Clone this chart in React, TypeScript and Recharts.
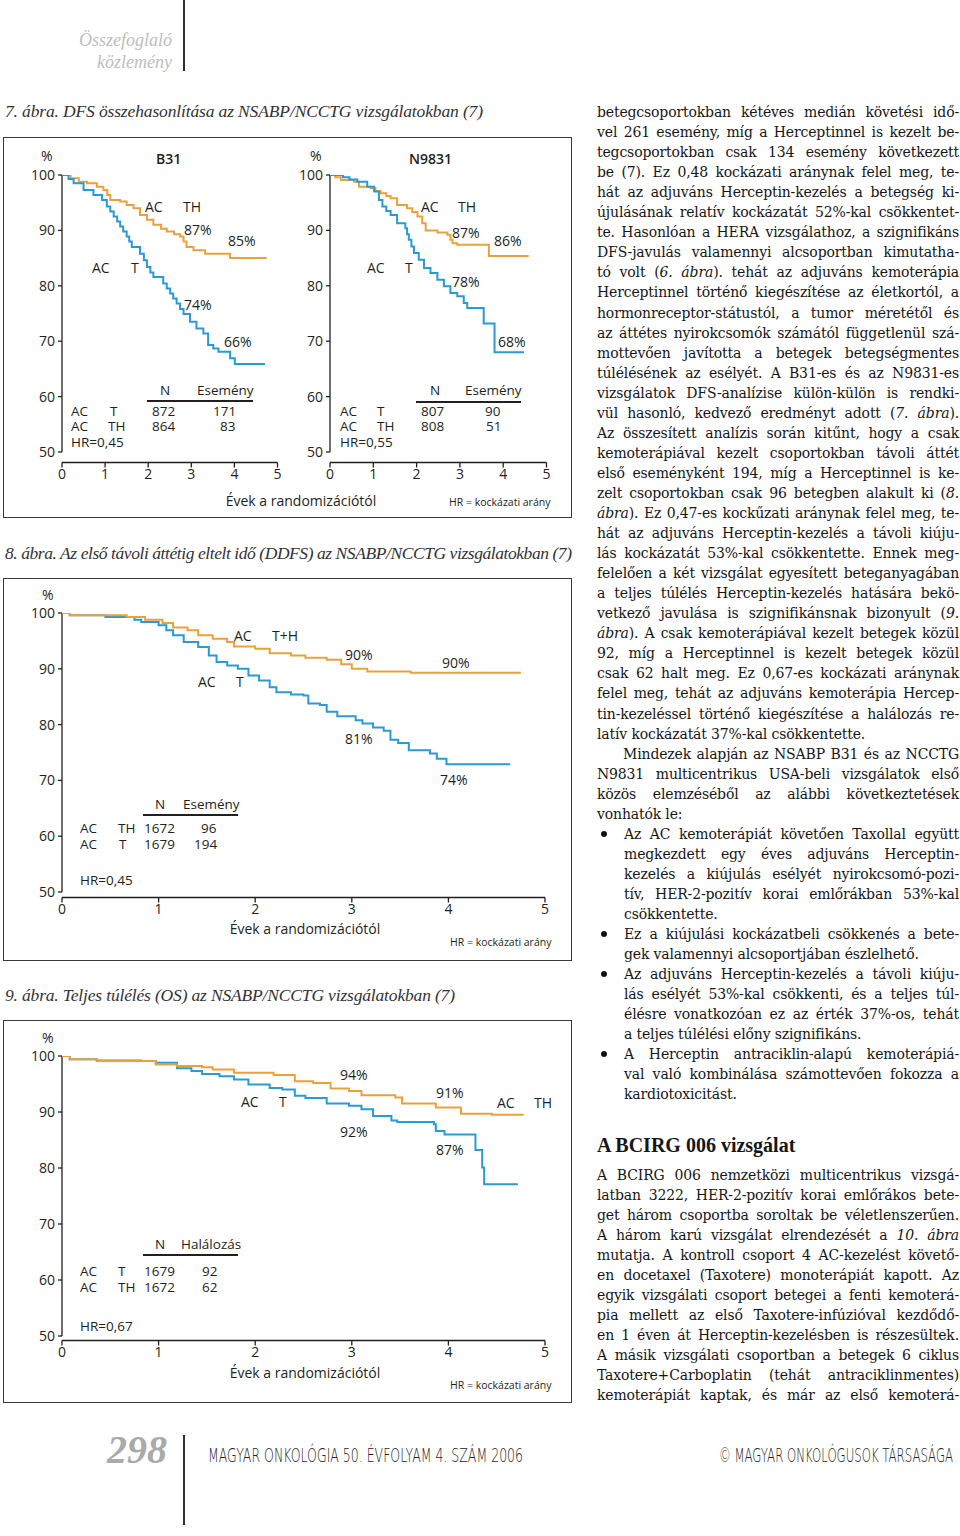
import React from "react";
import { LineChart, Line, XAxis, YAxis, ReferenceLine } from "recharts";

// --- chart values (years since randomisation, % event free) ---
const yearTicks = [0, 1, 2, 3, 4, 5];
const pctTicks = [50, 60, 70, 80, 90, 100];

// 7. ábra, B31
const b31TH = [
  [0, 100], [0.2, 99.4], [0.39, 98.8], [0.58, 98.5], [0.81, 97.9], [0.96, 97.3], [1.05, 96.4],
  [1.12, 95.5], [1.35, 95.2], [1.5, 94.6], [1.66, 94.0], [1.81, 92.8], [1.97, 91.9], [2.12, 91.0],
  [2.3, 90.3], [2.43, 89.8], [2.6, 89.3], [2.74, 88.9], [2.82, 88.0], [2.89, 87.0], [3.05, 86.4],
  [3.32, 85.8], [3.9, 85.0], [4.75, 85.0],
];
const b31T = [
  [0, 100], [0.15, 99.3], [0.27, 98.5], [0.5, 97.3], [0.73, 96.4], [0.93, 95.5], [1.04, 94.3],
  [1.12, 93.4], [1.2, 92.5], [1.28, 91.6], [1.35, 90.7], [1.42, 89.8], [1.5, 88.9], [1.56, 88.0],
  [1.62, 87.0], [1.81, 85.8], [1.9, 84.6], [1.97, 83.4], [2.05, 82.4], [2.12, 81.6], [2.35, 80.4],
  [2.43, 79.5], [2.51, 78.6], [2.58, 77.7], [2.66, 76.8], [2.74, 75.8], [2.82, 74.9], [2.97, 73.5],
  [3.12, 72.3], [3.28, 71.4], [3.39, 69.3], [3.51, 68.7], [3.63, 68.1], [3.9, 66.9], [4.01, 65.9],
  [4.71, 65.9],
];

// 7. ábra, N9831
const n9831TH = [
  [0, 100], [0.12, 99.6], [0.25, 99.1], [0.55, 98.8], [0.67, 97.9], [0.94, 97.6], [1.05, 97.1],
  [1.17, 96.7], [1.3, 96.2], [1.4, 95.8], [1.55, 94.6], [1.78, 94.0], [1.9, 93.3], [2.02, 92.5],
  [2.13, 91.3], [2.21, 90.0], [2.48, 89.6], [2.71, 89.2], [2.78, 88.3], [2.83, 87.7], [2.94, 87.4],
  [3.67, 85.4], [4.59, 85.4],
];
const n9831T = [
  [0, 100], [0.3, 99.6], [0.45, 99.2], [0.63, 98.8], [0.86, 97.9], [1.02, 97.0], [1.13, 95.5],
  [1.21, 94.3], [1.3, 93.5], [1.4, 92.8], [1.55, 91.3], [1.74, 90.4], [1.78, 89.3], [1.82, 88.3],
  [1.88, 87.1], [1.94, 85.9], [2.05, 84.7], [2.17, 83.2], [2.32, 82.3], [2.48, 81.1], [2.63, 79.9],
  [2.78, 78.7], [2.94, 78.1], [3.09, 76.9], [3.17, 76.0], [3.55, 73.2], [3.8, 68.0], [4.48, 68.0],
];

// 8. ábra, DDFS
const ddfsTH = [
  [0, 100], [0.08, 99.6], [0.67, 99.3], [0.86, 98.8], [1.04, 98.2], [1.15, 97.4], [1.3, 96.9],
  [1.41, 96.0], [1.56, 95.4], [1.71, 94.8], [1.78, 94.0], [2.0, 93.6], [2.15, 92.8], [2.37, 92.4],
  [2.52, 92.0], [2.74, 91.6], [2.89, 90.8], [3.0, 90.0], [3.16, 89.5], [3.61, 89.3], [4.75, 89.3],
];
const ddfsT = [
  [0, 100], [0.08, 99.6], [0.45, 99.3], [0.75, 98.8], [0.82, 98.4], [1.0, 97.8], [1.08, 96.9],
  [1.15, 96.0], [1.26, 94.8], [1.41, 93.9], [1.52, 92.4], [1.6, 91.2], [1.71, 90.6], [1.82, 90.0],
  [1.93, 88.8], [2.04, 87.9], [2.15, 86.7], [2.22, 85.8], [2.37, 85.4], [2.5, 85.2], [2.55, 83.8],
  [2.67, 83.5], [2.74, 82.3], [2.85, 81.5], [3.04, 80.8], [3.11, 80.2], [3.22, 79.5], [3.33, 78.9],
  [3.4, 77.3], [3.48, 76.7], [3.59, 75.4], [3.81, 74.8], [3.88, 73.9], [3.98, 72.9], [4.64, 72.9],
];

// 9. ábra, OS
const osTH = [
  [0, 100], [0.08, 99.4], [0.36, 99.1], [0.97, 98.5], [1.19, 98.2], [1.45, 98.0], [1.56, 97.6],
  [1.78, 97.0], [2.19, 96.6], [2.41, 95.5], [2.6, 95.2], [2.78, 94.2], [2.97, 93.75], [3.1, 93.0],
  [3.45, 92.6], [3.52, 91.5], [3.87, 90.8], [4.13, 89.7], [4.45, 89.5], [4.78, 89.5],
];
const osT = [
  [0, 100], [0.08, 99.4], [0.36, 99.2], [0.82, 99.1], [0.97, 98.8], [1.19, 97.8], [1.34, 97.3],
  [1.45, 96.8], [1.63, 96.4], [1.78, 95.8], [1.93, 94.9], [2.15, 94.3], [2.28, 94.0], [2.41, 92.9],
  [2.52, 92.5], [2.74, 91.5], [2.97, 91.1], [3.1, 90.5], [3.22, 89.3], [3.41, 88.5], [3.47, 88.2],
  [3.85, 87.8], [3.87, 86.6], [3.96, 86.0], [4.28, 83.2], [4.35, 80.1], [4.37, 77.1], [4.72, 77.1],
];

// --- body text of the right column (_..._ = italic) ---
const bodyLines = [
  "betegcsoportokban kétéves medián követési idő-",
  "vel 261 esemény, míg a Herceptinnel is kezelt be-",
  "tegcsoportokban csak 134 esemény következett",
  "be (7). Ez 0,48 kockázati aránynak felel meg, te-",
  "hát az adjuváns Herceptin-kezelés a betegség ki-",
  "újulásának relatív kockázatát 52%-kal csökkentet-",
  "te. Hasonlóan a HERA vizsgálathoz, a szignifikáns",
  "DFS-javulás valamennyi alcsoportban kimutatha-",
  "tó volt (_6. ábra_). tehát az adjuváns kemoterápia",
  "Herceptinnel történő kiegészítése az életkortól, a",
  "hormonreceptor-státustól, a tumor méretétől és",
  "az áttétes nyirokcsomók számától függetlenül szá-",
  "mottevően javította a betegek betegségmentes",
  "túlélésének az esélyét. A B31-es és az N9831-es",
  "vizsgálatok DFS-analízise külön-külön is rendki-",
  "vül hasonló, kedvező eredményt adott (_7. ábra_).",
  "Az összesített analízis során kitűnt, hogy a csak",
  "kemoterápiával kezelt csoportokban távoli áttét",
  "első eseményként 194, míg a Herceptinnel is ke-",
  "zelt csoportokban csak 96 betegben alakult ki (_8._",
  "_ábra_). Ez 0,47-es kockűzati aránynak felel meg, te-",
  "hát az adjuváns Herceptin-kezelés a távoli kiúju-",
  "lás kockázatát 53%-kal csökkentette. Ennek meg-",
  "felelően a két vizsgálat egyesített beteganyagában",
  "a teljes túlélés Herceptin-kezelés hatására bekö-",
  "vetkező javulása is szignifikánsnak bizonyult (_9._",
  "_ábra_). A csak kemoterápiával kezelt betegek közül",
  "92, míg a Herceptinnel is kezelt betegek közül",
  "csak 62 halt meg. Ez 0,67-es kockázati aránynak",
  "felel meg, tehát az adjuváns kemoterápia Hercep-",
  "tin-kezeléssel történő kiegészítése a halálozás re-",
  "!latív kockázatát 37%-kal csökkentette.",
  ">Mindezek alapján az NSABP B31 és az NCCTG",
  "N9831 multicentrikus USA-beli vizsgálatok első",
  "közös elemzéséből az alábbi következtetések",
  "!vonhatók le:",
  "*Az AC kemoterápiát követően Taxollal együtt",
  "+megkezdett egy éves adjuváns Herceptin-",
  "+kezelés a kiújulás esélyét nyirokcsomó-pozi-",
  "+tív, HER-2-pozitív korai emlőrákban 53%-kal",
  "-csökkentette.",
  "*Ez a kiújulási kockázatbeli csökkenés a bete-",
  "-gek valamennyi alcsoportjában észlelhető.",
  "*Az adjuváns Herceptin-kezelés a távoli kiúju-",
  "+lás esélyét 53%-kal csökkenti, és a teljes túl-",
  "+élésre vonatkozóan ez az érték 37%-os, tehát",
  "-a teljes túlélési előny szignifikáns.",
  "*A Herceptin antraciklin-alapú kemoterápiá-",
  "+val való kombinálása számottevően fokozza a",
  "-kardiotoxicitást.",
];
const bcirgLines = [
  "A BCIRG 006 nemzetközi multicentrikus vizsgá-",
  "latban 3222, HER-2-pozitív korai emlőrákos bete-",
  "get három csoportba soroltak be véletlenszerűen.",
  "A három karú vizsgálat elrendezését a _10. ábra_",
  "mutatja. A kontroll csoport 4 AC-kezelést követő-",
  "en docetaxel (Taxotere) monoterápiát kapott. Az",
  "egyik vizsgálati csoport betegei a fenti kemoterá-",
  "pia mellett az első Taxotere-infúzióval kezdődő-",
  "en 1 éven át Herceptin-kezelésben is részesültek.",
  "A másik vizsgálati csoportban a betegek 6 ciklus",
  "Taxotere+Carboplatin (tehát antraciklinmentes)",
  "kemoterápiát kaptak, és már az első kemoterá-",
];

const ORANGE = "#E9A23B";
const BLUE = "#2A9AD3";
const INK = "#231F20";
const SANS = "'Open Sans', 'Noto Sans', sans-serif";
const SERIF = "'Liberation Serif', 'DejaVu Serif', serif";
const BODY = "'DejaVu Serif', serif";

const toPts = (arr: number[][]) => arr.map(([t, s]) => ({ t, s }));

function Txt({ x, y, children, size = 14, anchor = "start", weight = 400, family = SANS, color = INK, italic = false }: any) {
  const tx = anchor === "end" ? "-100%" : anchor === "middle" ? "-50%" : "0";
  return (
    <div
      style={{
        position: "absolute",
        left: x,
        top: y,
        transform: `translate(${tx}, -50%)`,
        fontSize: size,
        lineHeight: 1,
        fontFamily: family,
        fontWeight: weight,
        fontStyle: italic ? "italic" : "normal",
        color,
        whiteSpace: "nowrap",
      }}
    >
      {children}
    </div>
  );
}

// table rows inside the charts are set a bit smaller
const Tb = (p: any) => <Txt size={13.5} {...p} />;

function FitText({ x, y, w, size, children, italic = false, color = INK, family = SERIF, weight = 400, adjust = "spacing" }: any) {
  const h = size * 1.6;
  return (
    <svg style={{ position: "absolute", left: x, top: y - h / 2, overflow: "visible" }} width={w} height={h}>
      <text
        x={0}
        y={h / 2 + size * 0.33}
        textLength={w}
        lengthAdjust={adjust}
        fontSize={size}
        fontFamily={family}
        fontStyle={italic ? "italic" : "normal"}
        fontWeight={weight}
        fill={color}
      >
        {children}
      </text>
    </svg>
  );
}

function Rule({ x1, x2, y, w = 1.4 }: any) {
  return <div style={{ position: "absolute", left: x1, top: y - w / 2, width: x2 - x1, height: w, background: INK }} />;
}

function Box({ top, height }: any) {
  return (
    <div
      style={{
        position: "absolute",
        left: 3,
        top,
        width: 569,
        height,
        border: "1.5px solid #3a3a3a",
        boxSizing: "border-box",
      }}
    />
  );
}

function KMChart({ x0, x5, y100, y50, axisY, series }: any) {
  const YW = 40;
  const MT = 12;
  const MR = 12;
  const XH = 30;
  const width = YW + (x5 - x0) + MR;
  const height = MT + (axisY - y100) + XH;
  const tickStyle = { fill: INK, fontSize: 14, fontFamily: SANS };
  return (
    <div style={{ position: "absolute", left: x0 - YW, top: y100 - MT }}>
      <LineChart width={width} height={height} margin={{ top: MT, right: MR, bottom: 0, left: 0 }}>
        <XAxis
          type="number"
          dataKey="t"
          domain={[0, 5]}
          ticks={yearTicks}
          allowDataOverflow
          height={XH}
          tickSize={5}
          tickMargin={2}
          axisLine={{ stroke: INK, strokeWidth: 1.3 }}
          tickLine={{ stroke: INK, strokeWidth: 1.3 }}
          tick={tickStyle}
        />
        <YAxis
          type="number"
          dataKey="s"
          domain={[50, 100]}
          ticks={pctTicks}
          allowDataOverflow
          width={YW}
          padding={{ top: 0, bottom: axisY - y50 }}
          tickSize={4}
          tickMargin={3}
          axisLine={false}
          tickLine={{ stroke: INK, strokeWidth: 1.3 }}
          tick={tickStyle}
        />
        <ReferenceLine segment={[{ x: 0, y: 50 }, { x: 0, y: 100 }]} stroke={INK} strokeWidth={1.3} />
        {series.map((s: any, i: number) => (
          <Line
            key={i}
            data={toPts(s.data)}
            dataKey="s"
            type="stepAfter"
            stroke={s.color}
            strokeWidth={2}
            dot={false}
            activeDot={false}
            isAnimationActive={false}
          />
        ))}
      </LineChart>
    </div>
  );
}

function rich(text: string) {
  return text.split("_").map((part, i) => (i % 2 === 1 ? <i key={i}>{part}</i> : <span key={i}>{part}</span>));
}

function BodyLine({ y, raw }: any) {
  let x = 597;
  let justify = true;
  let text = raw;
  let bullet = false;
  const c = raw[0];
  if (c === "!") { justify = false; text = raw.slice(1); }
  else if (c === ">") { x = 623; text = raw.slice(1); }
  else if (c === "*") { x = 624; bullet = true; text = raw.slice(1); }
  else if (c === "+") { x = 624; text = raw.slice(1); }
  else if (c === "-") { x = 624; justify = false; text = raw.slice(1); }
  const w = 959 - x;
  return (
    <>
      {bullet && <div style={{ position: "absolute", left: 601, top: y - 3, width: 6, height: 6, borderRadius: 3, background: "#111" }} />}
      <div
        style={{
          position: "absolute",
          left: x,
          top: y,
          width: w,
          transform: "translateY(-50%)",
          fontFamily: BODY,
          fontSize: 14,
          letterSpacing: -0.15,
          lineHeight: 1,
          color: "#161616",
          textAlign: justify ? "justify" : "left",
          textAlignLast: justify ? "justify" : "left",
          whiteSpace: "nowrap",
        } as any}
      >
        {rich(text)}
      </div>
    </>
  );
}

function Figure7() {
  return (
    <>
      <Box top={137} height={381} />
      <KMChart x0={62} x5={277.5} y100={175} y50={452} axisY={462.5}
        series={[{ data: b31TH, color: ORANGE }, { data: b31T, color: BLUE }]} />
      <KMChart x0={329.5} x5={546} y100={175} y50={452} axisY={462.5}
        series={[{ data: n9831TH, color: ORANGE }, { data: n9831T, color: BLUE }]} />
      {/* B31 panel */}
      <Txt x={41} y={156}>%</Txt>
      <Txt x={156} y={159} weight={600}>B31</Txt>
      <Txt x={145} y={207}>AC</Txt>
      <Txt x={183} y={207}>TH</Txt>
      <Txt x={184} y={230}>87%</Txt>
      <Txt x={228} y={241}>85%</Txt>
      <Txt x={92} y={268}>AC</Txt>
      <Txt x={131} y={268}>T</Txt>
      <Txt x={184} y={305}>74%</Txt>
      <Txt x={224} y={342}>66%</Txt>
      <Tb x={160} y={391}>N</Tb>
      <Tb x={197} y={391}>Esemény</Tb>
      <Rule x1={147} x2={253} y={401} />
      <Tb x={71} y={412}>AC</Tb>
      <Tb x={110} y={412}>T</Tb>
      <Tb x={152} y={412}>872</Tb>
      <Tb x={213} y={412}>171</Tb>
      <Tb x={71} y={427}>AC</Tb>
      <Tb x={108} y={427}>TH</Tb>
      <Tb x={152} y={427}>864</Tb>
      <Tb x={220} y={427}>83</Tb>
      <Tb x={71} y={443}>HR=0,45</Tb>
      {/* N9831 panel */}
      <Txt x={310} y={156}>%</Txt>
      <Txt x={409} y={159} weight={600}>N9831</Txt>
      <Txt x={421} y={207}>AC</Txt>
      <Txt x={458} y={207}>TH</Txt>
      <Txt x={452} y={233}>87%</Txt>
      <Txt x={494} y={241}>86%</Txt>
      <Txt x={367} y={268}>AC</Txt>
      <Txt x={405} y={268}>T</Txt>
      <Txt x={452} y={282}>78%</Txt>
      <Txt x={498} y={342}>68%</Txt>
      <Tb x={430} y={391}>N</Tb>
      <Tb x={465} y={391}>Esemény</Tb>
      <Rule x1={416} x2={521} y={402} />
      <Tb x={340} y={412}>AC</Tb>
      <Tb x={377} y={412}>T</Tb>
      <Tb x={421} y={412}>807</Tb>
      <Tb x={485} y={412}>90</Tb>
      <Tb x={340} y={427}>AC</Tb>
      <Tb x={377} y={427}>TH</Tb>
      <Tb x={421} y={427}>808</Tb>
      <Tb x={486} y={427}>51</Tb>
      <Tb x={340} y={443}>HR=0,55</Tb>
      <Txt x={301} y={501} anchor="middle">Évek a randomizációtól</Txt>
      <Txt x={449} y={502} size={10.5}>HR = kockázati arány</Txt>
    </>
  );
}

function Figure8() {
  return (
    <>
      <Box top={578} height={383} />
      <KMChart x0={62} x5={545} y100={613} y50={892} axisY={897.5}
        series={[{ data: ddfsT, color: BLUE }, { data: ddfsTH, color: ORANGE }]} />
      <Txt x={42} y={595}>%</Txt>
      <Txt x={234} y={636}>AC</Txt>
      <Txt x={272} y={636}>T+H</Txt>
      <Txt x={345} y={655}>90%</Txt>
      <Txt x={442} y={663}>90%</Txt>
      <Txt x={198} y={682}>AC</Txt>
      <Txt x={236} y={682}>T</Txt>
      <Txt x={345} y={739}>81%</Txt>
      <Txt x={440} y={780}>74%</Txt>
      <Tb x={155} y={805}>N</Tb>
      <Tb x={183} y={805}>Esemény</Tb>
      <Rule x1={143} x2={238} y={815} />
      <Tb x={80} y={829}>AC</Tb>
      <Tb x={118} y={829}>TH</Tb>
      <Tb x={144} y={829}>1672</Tb>
      <Tb x={201} y={829}>96</Tb>
      <Tb x={80} y={845}>AC</Tb>
      <Tb x={119} y={845}>T</Tb>
      <Tb x={144} y={845}>1679</Tb>
      <Tb x={194} y={845}>194</Tb>
      <Tb x={80} y={881}>HR=0,45</Tb>
      <Txt x={305} y={929} anchor="middle">Évek a randomizációtól</Txt>
      <Txt x={450} y={942} size={10.5}>HR = kockázati arány</Txt>
    </>
  );
}

function Figure9() {
  return (
    <>
      <Box top={1020} height={383} />
      <KMChart x0={62} x5={545} y100={1055.5} y50={1335.5} axisY={1340}
        series={[{ data: osT, color: BLUE }, { data: osTH, color: ORANGE }]} />
      <Txt x={42} y={1038}>%</Txt>
      <Txt x={340} y={1075}>94%</Txt>
      <Txt x={241} y={1102}>AC</Txt>
      <Txt x={279} y={1102}>T</Txt>
      <Txt x={340} y={1132}>92%</Txt>
      <Txt x={436} y={1093}>91%</Txt>
      <Txt x={436} y={1150}>87%</Txt>
      <Txt x={497} y={1103}>AC</Txt>
      <Txt x={534} y={1103}>TH</Txt>
      <Tb x={155} y={1245}>N</Tb>
      <Tb x={181} y={1245}>Halálozás</Tb>
      <Rule x1={143} x2={238} y={1255} />
      <Tb x={80} y={1272}>AC</Tb>
      <Tb x={118} y={1272}>T</Tb>
      <Tb x={144} y={1272}>1679</Tb>
      <Tb x={202} y={1272}>92</Tb>
      <Tb x={80} y={1288}>AC</Tb>
      <Tb x={118} y={1288}>TH</Tb>
      <Tb x={144} y={1288}>1672</Tb>
      <Tb x={202} y={1288}>62</Tb>
      <Tb x={80} y={1327}>HR=0,67</Tb>
      <Txt x={305} y={1373} anchor="middle">Évek a randomizációtól</Txt>
      <Txt x={450} y={1385} size={10.5}>HR = kockázati arány</Txt>
    </>
  );
}

export default function App() {
  return (
    <div style={{ position: "absolute", left: 0, top: 0, width: 960, height: 1536, background: "#fff", overflow: "hidden" }}>
      {/* running head */}
      <Txt x={172} y={40} anchor="end" family={SERIF} italic size={18} color="#bdbdbd">Összefoglaló</Txt>
      <Txt x={172} y={62} anchor="end" family={SERIF} italic size={18} color="#bdbdbd">közlemény</Txt>
      <div style={{ position: "absolute", left: 183, top: 0, width: 2, height: 71, background: "#333" }} />

      <FitText x={5} y={111} w={478} size={17.5} italic color="#333">7. ábra. DFS összehasonlítása az NSABP/NCCTG vizsgálatokban (7)</FitText>
      <Figure7 />
      <FitText x={5} y={553} w={567} size={17.5} italic color="#333">8. ábra. Az első távoli áttétig eltelt idő (DDFS) az NSABP/NCCTG vizsgálatokban (7)</FitText>
      <Figure8 />
      <FitText x={5} y={995} w={450} size={17.5} italic color="#333">9. ábra. Teljes túlélés (OS) az NSABP/NCCTG vizsgálatokban (7)</FitText>
      <Figure9 />

      {bodyLines.map((l, i) => <BodyLine key={i} y={112 + i * 20.05} raw={l} />)}
      <Txt x={597} y={1145} family={SERIF} weight={700} size={20} color="#161616">A BCIRG 006 vizsgálat</Txt>
      {bcirgLines.map((l, i) => <BodyLine key={"b" + i} y={1175 + i * 20} raw={l} />)}

      {/* footer */}
      <Txt x={107} y={1450} family={SERIF} italic weight={700} size={40} color="#aaaaaa">298</Txt>
      <div style={{ position: "absolute", left: 183, top: 1435, width: 1.5, height: 90, background: "#333" }} />
      <FitText x={208} y={1455} w={315} size={20} family="'DejaVu Sans', sans-serif" weight={300} adjust="spacingAndGlyphs" color="#222">MAGYAR ONKOLÓGIA  50. ÉVFOLYAM  4. SZÁM  2006</FitText>
      <FitText x={719} y={1455} w={234} size={20} family="'DejaVu Sans', sans-serif" weight={300} adjust="spacingAndGlyphs" color="#222">© MAGYAR ONKOLÓGUSOK TÁRSASÁGA</FitText>
    </div>
  );
}
